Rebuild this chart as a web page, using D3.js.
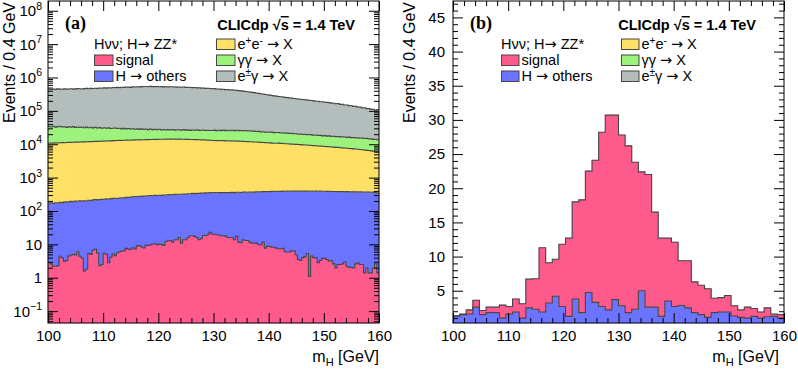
<!DOCTYPE html>
<html>
<head>
<meta charset="utf-8">
<script src="https://cdn.jsdelivr.net/npm/d3@7"></script>
<style>
  body { margin: 0; background: #fff; }
  svg { display: block; font-family: 'Liberation Sans', Arial, sans-serif; }
  .arr { font-family: 'DejaVu Sans', sans-serif; }
</style>
</head>
<body>
<svg width="798" height="371"></svg>
<script>
// m_H range and bin widths (GeV)
const xMin = 100
const xMax = 160
const leftBinWidth = 0.4
const rightBinWidth = 1.2

// (a) log plot, 150 bins, events per bin for each process
const leftSignal = [
  2.8, 2.6, 2.2, 2.2, 2.3, 4.4, 3.9, 3.1, 3.3, 4.5,
  4.8, 5.0, 4.8, 6.0, 4.4, 3.9, 1.6, 1.8, 5.3, 5.0,
  6.8, 7.1, 5.5, 2.3, 2.5, 5.4, 5.0, 2.8, 4.1, 5.2,
  4.6, 5.6, 6.0, 6.3, 6.4, 7.6, 7.2, 7.0, 7.9, 7.3,
  9.0, 9.2, 8.3, 7.8, 9.5, 9.3, 9.6, 10.2, 10.4, 9.8,
  10.0, 10.0, 9.3, 12.2, 12.8, 13.1, 11.7, 13.7, 13.7, 16.0,
  10.9, 13.7, 13.7, 16.1, 18.1, 18.1, 17.3, 16.1, 13.7, 14.7,
  18.5, 18.5, 19.4, 22.8, 20.3, 20.0, 19.4, 19.0, 18.1, 18.1,
  17.6, 16.1, 16.1, 16.1, 13.7, 17.3, 11.7, 11.2, 13.7, 13.1,
  13.1, 11.7, 10.9, 10.9, 10.9, 9.7, 9.7, 11.7, 7.7, 8.7,
  8.7, 8.2, 8.2, 7.7, 7.4, 7.4, 7.6, 5.9, 5.9, 5.9,
  6.4, 6.4, 4.9, 3.5, 3.3, 4.0, 4.3, 5.3, 1.1, 4.5,
  4.0, 4.0, 2.8, 3.3, 3.8, 3.8, 3.5, 3.2, 3.2, 2.6,
  1.95, 2.5, 2.5, 2.6, 3.0, 2.2, 2.05, 2.05, 1.95, 2.6,
  2.8, 2.5, 2.5, 1.4, 1.95, 1.4, 1.4, 1.95, 2.6, 1.4
]
const leftOthers = [
  169, 172, 166, 175, 171, 178, 174, 181, 186, 183,
  189, 185, 193, 190, 197, 194, 201, 198, 205, 202,
  208, 212, 210, 217, 221, 219, 226, 223, 230, 233,
  236, 232, 240, 244, 241, 249, 246, 253, 258, 265,
  262, 268, 265, 272, 269, 276, 280, 277, 284, 281,
  287, 284, 291, 288, 292, 298, 295, 301, 304, 300,
  307, 310, 306, 314, 311, 318, 315, 321, 324, 328,
  325, 331, 328, 334, 330, 337, 333, 339, 336, 341,
  338, 343, 340, 345, 342, 348, 351, 347, 353, 356,
  352, 358, 361, 357, 364, 367, 363, 370, 373, 376,
  372, 378, 381, 377, 383, 380, 386, 383, 388, 385,
  390, 387, 392, 389, 391, 394, 390, 393, 389, 392,
  388, 391, 387, 390, 385, 388, 384, 386, 381, 382,
  379, 383, 377, 380, 375, 378, 373, 376, 371, 374,
  369, 372, 367, 370, 365, 368, 362, 366, 352, 345
]
const leftEE = [
  10500, 10650, 10600, 10800, 10750, 10900, 11000, 10950, 11100, 11200,
  11150, 11300, 11400, 11350, 11500, 11600, 11550, 11700, 11800, 11750,
  11900, 12000, 11950, 12100, 12200, 12150, 12300, 12400, 12350, 12600,
  12550, 12700, 12800, 12750, 12900, 13000, 12950, 13100, 13050, 13200,
  13300, 13250, 13400, 13350, 13500, 13450, 13600, 13550, 13700, 13650,
  13800, 13750, 13850, 13900, 13800, 13950, 13850, 13900, 13800, 13900,
  13750, 13800, 13650, 13700, 13550, 13600, 13400, 13450, 13300, 13200,
  13150, 13000, 12950, 12800, 12600, 12650, 12500, 12550, 12400, 12450,
  12300, 12350, 12200, 12250, 12100, 12000, 12050, 11900, 11850, 11700,
  11650, 11500, 11450, 11300, 11250, 11100, 11000, 10900, 10800, 10650,
  10600, 10450, 10350, 10300, 10400, 10200, 10100, 10000, 9900, 9800,
  9700, 9650, 9500, 9400, 9350, 9200, 9100, 9050, 8900, 8800,
  8700, 8650, 8500, 8400, 8350, 8200, 8100, 8050, 7900, 7800,
  7700, 7650, 7500, 7400, 7350, 7200, 7100, 7000, 6900, 6800,
  6700, 6550, 6450, 6350, 6200, 6100, 5950, 5850, 5700, 5550
]
const leftGG = [
  23300, 22100, 24000, 21500, 22800, 23600, 21900, 22400, 20800, 22000,
  21200, 22300, 20500, 21400, 20100, 21000, 19600, 20700, 19300, 20200,
  18900, 19800, 18500, 19200, 17800, 18900, 17500, 18300, 16900, 17400,
  17900, 16600, 17200, 15900, 16800, 15500, 16300, 15200, 15900, 14800,
  15400, 14300, 15100, 14000, 14800, 13700, 14600, 13500, 14200, 13100,
  13900, 12800, 13600, 12500, 13300, 12400, 13400, 12300, 13100, 12800,
  12300, 13200, 12600, 13000, 12100, 12900, 12500, 13300, 12400, 12800,
  13100, 12400, 13000, 12600, 12800, 13400, 12700, 13300, 12900, 13600,
  13000, 13500, 12800, 13700, 13200, 13900, 13100, 13600, 13300, 13700,
  13000, 13400, 12600, 13100, 12400, 12800, 12100, 12500, 11800, 12200,
  11900, 12300, 11500, 11900, 11700, 11200, 11600, 10900, 11300, 10700,
  11100, 10500, 10800, 10200, 10600, 10000, 10400, 9800, 10200, 9900,
  9500, 9900, 9300, 9700, 9100, 9500, 9000, 9400, 8900, 9200,
  8800, 9100, 8700, 9000, 8800, 8500, 8900, 8400, 8700, 8300,
  8600, 8200, 8500, 8100, 8400, 7900, 8200, 7800, 8100, 7700
]
const leftEG = [
  412000, 405000, 418000, 409000, 421000, 415000, 410000, 424000, 417000, 420000,
  426000, 414000, 423000, 430000, 427000, 419000, 433000, 438000, 429000, 441000,
  436000, 445000, 440000, 452000, 447000, 458000, 450000, 462000, 455000, 470000,
  466000, 475000, 468000, 481000, 477000, 489000, 484000, 476000, 495000, 490000,
  501000, 494000, 505000, 512000, 509000, 498000, 515000, 507000, 503000, 511000,
  500000, 506000, 497000, 502000, 495000, 504000, 499000, 491000, 488000, 493000,
  485000, 490000, 479000, 483000, 474000, 470000, 476000, 463000, 466000, 455000,
  458000, 447000, 450000, 441000, 434000, 437000, 425000, 428000, 416000, 419000,
  408000, 410000, 398000, 401000, 390000, 385000, 379000, 372000, 366000, 355000,
  348000, 342000, 333000, 328000, 318000, 311000, 302000, 295000, 287000, 280000,
  273000, 266000, 259000, 254000, 248000, 243000, 238000, 232000, 228000, 223000,
  219000, 214000, 210000, 207000, 202000, 199000, 196000, 191000, 188000, 185000,
  181000, 176000, 177000, 169000, 170000, 163000, 162000, 159000, 153000, 152000,
  147000, 148000, 140000, 141000, 133000, 134000, 127000, 126000, 120000, 121000,
  114000, 115000, 108000, 109000, 102000, 103000, 96000, 98000, 91000, 95000
]

// (b) linear plot, 50 bins
const rightOthers = [
  1.25, 1.5, 1.6, 2.6, 1.5, 1.8, 1.8, 1.0, 1.6, 1.9,
  1.0, 2.5, 2.3, 1.9, 3.2, 4.2, 2.7, 1.25, 3.8, 1.8,
  4.75, 3.3, 2.7, 2.2, 3.7, 2.8, 1.8, 2.3, 5.0, 2.6,
  2.6, 1.25, 3.5, 2.7, 2.85, 2.5, 1.8, 1.5, 1.1, 1.8,
  1.9, 1.9, 1.3, 1.1, 1.0, 1.25, 1.0, 1.2, 1.25, 1.0
]
const rightSignal = [
  0.1, 0.1, 0.6, 1.0, 0.6, 0.8, 0.8, 1.9, 1.1, 1.9,
  2.1, 4.2, 4.45, 9.4, 5.9, 5.4, 9.1, 11.45, 14.2, 16.5,
  17.75, 20.8, 25.5, 28.5, 27.0, 25.0, 24.4, 21.5, 17.4, 19.4,
  13.9, 11.45, 9.2, 9.4, 6.55, 6.9, 4.5, 4.3, 4.2, 2.1,
  2.1, 2.4, 1.5, 1.1, 1.6, 1.15, 0.9, 1.3, 0.35, 0.5
]

const xTicks = [100, 110, 120, 130, 140, 150, 160]
const logTickExps = [-1, 0, 1, 2, 3, 4, 5, 6, 7, 8]
const linTicks = [5, 10, 15, 20, 25, 30, 35, 40, 45]

const colors = {
  signal: '#fe5a8c',
  others: '#6a74fe',
  ee: '#ffe066',
  gg: '#9cf27c',
  eg: '#b3bebc'
}
const lineColor = '#474747'
const tickFont = 15

const svg = d3.select('svg')
const width = 331
const height = 322

function stepPoints (layer, binWidth) {
  const pts = layer.map((d, i) => ({ x: xMin + i * binWidth, lo: d[0], hi: d[1] }))
  const last = pts[pts.length - 1]
  pts.push({ x: xMax, lo: last.lo, hi: last.hi })
  return pts
}

function drawStack (g, x, y, rows, keys, binWidth) {
  const layers = d3.stack().keys(keys)(rows)
  const floor = y.domain()[0]
  const area = d3.area().curve(d3.curveStepAfter)
    .x(d => x(d.x))
    .y0(d => y(Math.max(d.lo, floor)))
    .y1(d => y(Math.max(d.hi, floor)))
  const line = d3.line().curve(d3.curveStepAfter)
    .x(d => x(d.x))
    .y(d => y(Math.max(d.hi, floor)))

  layers.forEach(layer => {
    g.append('path')
      .attr('d', area(stepPoints(layer, binWidth)))
      .attr('fill', colors[layer.key])
      .attr('stroke', colors[layer.key])
      .attr('stroke-width', 0.4)
  })
  layers.forEach(layer => {
    g.append('path')
      .attr('d', line(stepPoints(layer, binWidth)))
      .attr('fill', 'none')
      .attr('stroke', lineColor)
      .attr('stroke-width', 1.1)
  })
}

function tickAxis (g, axis, tx, ty) {
  g.append('g')
    .attr('transform', 'translate(' + tx + ',' + ty + ')')
    .call(axis)
    .attr('font-family', null)
    .attr('font-size', tickFont)
    .call(a => a.select('.domain').remove())
    .call(a => a.selectAll('line').attr('stroke', '#000'))
    .call(a => a.selectAll('text').attr('fill', '#000'))
}

function drawFrame (g, x, y, yMajor, yMinor, yLabels) {
  const xMinor = d3.range(xMin, xMax + 0.1, 2).filter(v => v % 10 !== 0)

  tickAxis(g, d3.axisBottom(x).tickValues(xTicks).tickSize(-10).tickPadding(7).tickFormat(d3.format('d')), 0, height)
  tickAxis(g, d3.axisBottom(x).tickValues(xMinor).tickSize(-5).tickFormat(''), 0, height)
  tickAxis(g, d3.axisTop(x).tickValues(xTicks).tickSize(-10).tickFormat(''), 0, 0)
  tickAxis(g, d3.axisTop(x).tickValues(xMinor).tickSize(-5).tickFormat(''), 0, 0)

  const left = d3.axisLeft(y).tickValues(yMajor).tickSize(-10).tickPadding(8)
  tickAxis(g, yLabels ? left.tickFormat(d3.format('d')) : left.tickFormat(''), 0, 0)
  tickAxis(g, d3.axisLeft(y).tickValues(yMinor).tickSize(-5).tickFormat(''), 0, 0)
  tickAxis(g, d3.axisRight(y).tickValues(yMajor).tickSize(-10).tickFormat(''), width, 0)
  tickAxis(g, d3.axisRight(y).tickValues(yMinor).tickSize(-5).tickFormat(''), width, 0)

  g.append('rect')
    .attr('width', width)
    .attr('height', height)
    .attr('fill', 'none')
    .attr('stroke', '#000')
    .attr('stroke-width', 1)
}

function axisTitles (ox) {
  svg.append('text')
    .attr('transform', 'translate(' + (ox + 15) + ',2) rotate(-90)')
    .attr('text-anchor', 'end')
    .attr('font-size', 16)
    .text('Events / 0.4 GeV')

  const t = svg.append('text')
    .attr('x', ox + 379)
    .attr('y', 362)
    .attr('text-anchor', 'end')
    .attr('font-size', 16)
  t.append('tspan').text('m')
  t.append('tspan').attr('font-size', 11).attr('dy', 4).text('H')
  t.append('tspan').attr('dy', -4).text(' [GeV]')
}

function headers (labelX, labelText, clicEnd) {
  svg.append('text')
    .attr('x', labelX)
    .attr('y', 29)
    .attr('font-family', 'Liberation Serif, Times New Roman, serif')
    .attr('font-weight', 'bold')
    .attr('font-size', 18)
    .text(labelText)

  const t = svg.append('text')
    .attr('x', clicEnd)
    .attr('y', 30)
    .attr('text-anchor', 'end')
    .attr('font-weight', 'bold')
    .attr('font-size', 14.5)
  t.append('tspan').text('CLICdp  \u221A')
  t.append('tspan').style('text-decoration', 'overline').text('s')
  t.append('tspan').text(' = 1.4 TeV')
}

// parts: [text, kind] where kind is 'sup' or 'arr' (arrow drawn in a wider font)
function richText (t, parts) {
  let up = false
  parts.forEach(p => {
    const s = t.append('tspan').text(p[0])
    if (p[1] === 'sup') {
      s.attr('font-size', 10).attr('dy', up ? 0 : -5)
      up = true
      return
    }
    if (up) {
      s.attr('dy', 5)
      up = false
    }
    if (p[1] === 'arr') s.attr('class', 'arr')
  })
}

function legend (col1, col2, boxW) {
  const items = [
    { x: col1, row: 1, key: 'signal', parts: [['signal']] },
    { x: col1, row: 2, key: 'others', parts: [['H '], ['\u2192', 'arr'], [' others']] },
    { x: col2, row: 0, key: 'ee', parts: [['e'], ['+', 'sup'], ['e'], ['-', 'sup'], [' '], ['\u2192', 'arr'], [' X']] },
    { x: col2, row: 1, key: 'gg', parts: [['\u03B3\u03B3 '], ['\u2192', 'arr'], [' X']] },
    { x: col2, row: 2, key: 'eg', parts: [['e'], ['\u00B1', 'sup'], ['\u03B3 '], ['\u2192', 'arr'], [' X']] }
  ]

  const title = svg.append('text')
    .attr('x', col1)
    .attr('y', 48.5)
    .attr('font-size', 14.5)
  richText(title, [['H\u03BD\u03BD; H'], ['\u2192', 'arr'], [' ZZ*']])

  items.forEach(d => {
    svg.append('rect')
      .attr('x', d.x + 0.5)
      .attr('y', 39 + d.row * 16)
      .attr('width', boxW)
      .attr('height', 10.5)
      .attr('fill', colors[d.key])
      .attr('stroke', lineColor)
      .attr('stroke-width', 1)

    const t = svg.append('text')
      .attr('x', d.x + boxW + 3)
      .attr('y', 48.5 + d.row * 16)
      .attr('font-size', 14.5)
    richText(t, d.parts)
  })
}

// ---- panel (a): log scale ----
const gA = svg.append('g').attr('transform', 'translate(48,1)')
const xA = d3.scaleLinear().domain([xMin, xMax]).range([0, width])
const yA = d3.scaleLog().domain([0.044, 1.96e8]).range([height, 0])

const rowsA = leftSignal.map((v, i) => ({
  signal: v, others: leftOthers[i], ee: leftEE[i], gg: leftGG[i], eg: leftEG[i]
}))
drawStack(gA, xA, yA, rowsA, ['signal', 'others', 'ee', 'gg', 'eg'], leftBinWidth)

const decades = logTickExps.map(e => Math.pow(10, e))
const logMinor = []
logTickExps.forEach(e => {
  for (let m = 2; m <= 9; m++) {
    const v = m * Math.pow(10, e)
    if (v < yA.domain()[1]) logMinor.push(v)
  }
})
logMinor.push(0.05, 0.06, 0.07, 0.08, 0.09)
drawFrame(gA, xA, yA, decades, logMinor, false)

logTickExps.forEach(e => {
  const t = gA.append('text')
    .attr('x', -6)
    .attr('y', yA(Math.pow(10, e)) + 5.4)
    .attr('text-anchor', 'end')
    .attr('font-size', tickFont)
  if (e === 0) {
    t.text('1')
  } else if (e === 1) {
    t.text('10')
  } else {
    t.append('tspan').text('10')
    t.append('tspan').attr('font-size', 10.5).attr('dy', -6.5).text(e < 0 ? '\u2212' + (-e) : e)
  }
})

axisTitles(0)
headers(65, '(a)', 355)
legend(94, 216, 18.5)

// ---- panel (b): linear scale ----
const gB = svg.append('g').attr('transform', 'translate(453,1)')
const xB = d3.scaleLinear().domain([xMin, xMax]).range([0, width])
const yB = d3.scaleLinear().domain([0.28, 47.4]).range([height, 0])

const rowsB = rightSignal.map((v, i) => ({ others: rightOthers[i], signal: v }))
drawStack(gB, xB, yB, rowsB, ['others', 'signal'], rightBinWidth)

const linMinor = d3.range(1, 48).filter(v => v % 5 !== 0)
drawFrame(gB, xB, yB, linTicks, linMinor, true)

axisTitles(400)
headers(470, '(b)', 756)
legend(501, 621, 17.5)
</script>
</body>
</html>
